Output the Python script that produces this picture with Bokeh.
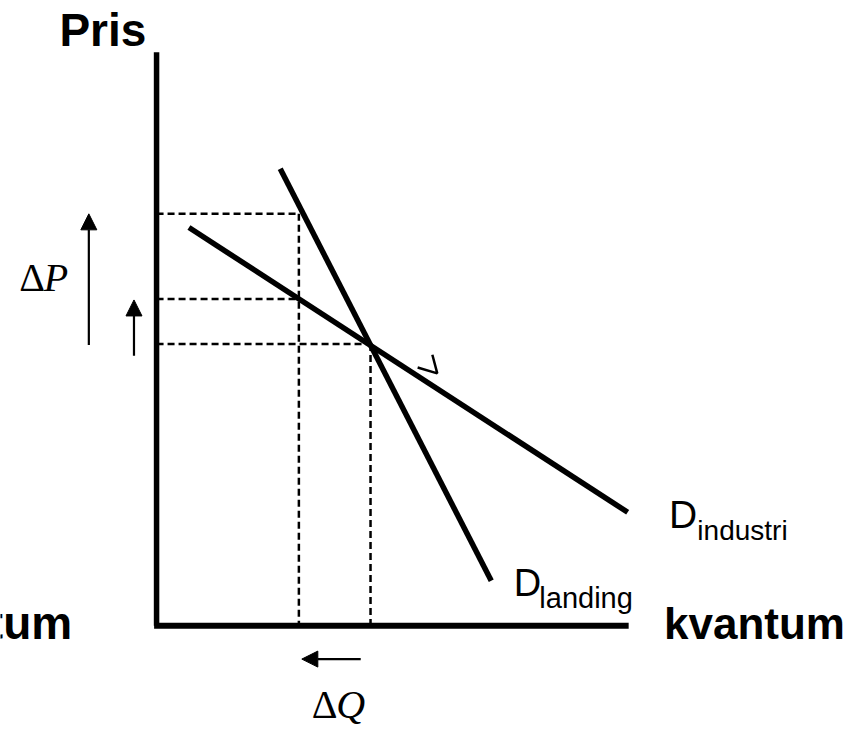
from bokeh.plotting import figure
from bokeh.models import Range1d, Arrow, NormalHead
from bokeh.core.properties import value
from bokeh.embed import file_html
from bokeh.resources import INLINE

# ---- data (quantity q, price p), origin at the axes corner ----
axis_q = [0, 481]          # horizontal axis extent
axis_p = [0, 586]          # vertical axis extent

landing_q = [126, 341]     # D_landing endpoints
landing_p = [467, 46]
industri_q = [33, 480]     # D_industri endpoints
industri_p = [407, 116]

eq_q = 218                 # original equilibrium
eq_p = 288
new_q = 145                # new quantity after price rise
p_high = 421               # new price along D_landing
p_mid = 334                # new price along D_industri

# arrows: (start, end)
dP_big = (287, 421)
dP_small = (276, 333)
dQ_arrow = (208, 148)

check_q = [266, 286, 281]  # small chevron mark
check_p = [264, 258, 277]

OX, OY = 159, 639  # position of origin in the 865x747 reference picture

p = figure(width=849, height=731, output_backend="svg", toolbar_location=None,
           x_range=Range1d(0 - OX, 865 - OX), y_range=Range1d(OY - 747, OY - 0),
           min_border=0)
p.axis.visible = False
p.grid.visible = False
p.outline_line_color = None
p.background_fill_color = "white"
p.border_fill_color = "white"

# dashed guides
dash = dict(line_color="black", line_width=2.5, line_dash="7 4")
p.segment(x0=[0, 0, 0], y0=[p_high, p_mid, eq_p],
          x1=[new_q, new_q, eq_q], y1=[p_high, p_mid, eq_p], **dash)
p.segment(x0=[new_q, eq_q], y0=[p_high, eq_p], x1=[new_q, eq_q], y1=[0, 0], **dash)

# axes
p.line(x=[axis_q[0], axis_q[0]], y=axis_p, line_color="black", line_width=5.5)
p.line(x=[-2.5, axis_q[1]], y=[0, 0], line_color="black", line_width=6)

# demand curves
p.line(x=landing_q, y=landing_p, line_color="black", line_width=5.5)
p.line(x=industri_q, y=industri_p, line_color="black", line_width=5.5)

# chevron
p.line(x=check_q, y=check_p, line_color="black", line_width=2.5)

# arrows
def arr(x0, y0, x1, y1):
    p.add_layout(Arrow(end=NormalHead(size=16, fill_color="black", line_color="black"),
                       x_start=x0, y_start=y0, x_end=x1, y_end=y1,
                       line_color="black", line_width=2.2))

arr(-69, dP_big[0], -69, dP_big[1])
arr(-23, dP_small[0], -23, dP_small[1])
arr(dQ_arrow[0], -34, dQ_arrow[1], -34)

# texts (baseline positions compensated for SVG baseline offset)
def T(x, y, s, size, **kw):
    p.text(x=[x], y=[y + 0.38 * size], text=[s], text_font_size=f"{size}px",
           text_color="black", text_baseline="alphabetic", **kw)

bold = dict(text_font=value("Liberation Sans"), text_font_style="bold")
T(-99, 591, "Pris", 46, text_align="left", **bold)
T(517, -14, "kvantum", 44, text_align="left", **bold)
T(-86, -15, "kvantum", 46, text_align="right", **bold)

serif = dict(text_font=value("Liberation Serif"))
T(-140, 341, "Δ", 40, text_align="left", **serif)
T(-115, 341, "P", 40, text_align="left", text_font_style="italic", **serif)
T(158, -96, "Δ", 40, text_align="left", **serif)
T(183, -96, "Q", 40, text_align="left", text_font_style="italic", **serif)

sans = dict(text_font=value("Liberation Sans"), text_align="left")
T(522, 99, "D", 39, **sans)
T(551, 87, "industri", 28, **sans)
T(364, 29, "D", 38, **sans)
T(390, 17, "landing", 29, **sans)

open("out.html", "w").write(file_html(p, INLINE))
